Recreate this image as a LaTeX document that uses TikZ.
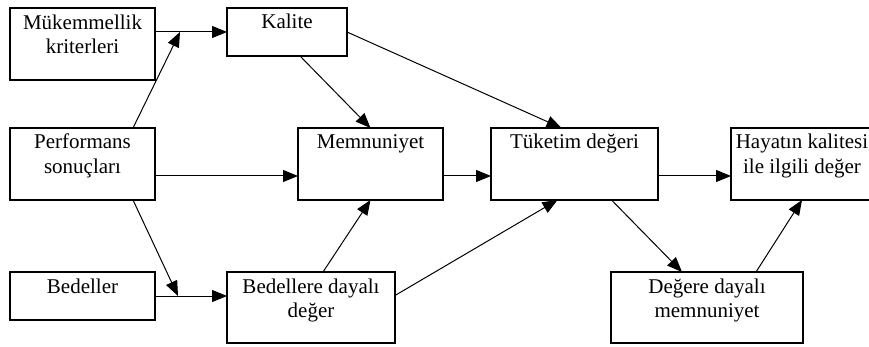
\documentclass[tikz,border=0pt]{standalone}
\usepackage{fontspec}
\setmainfont{Liberation Serif}
\usetikzlibrary{arrows.meta,calc}
\begin{document}
\begin{tikzpicture}[x=1pt,y=-1pt,
  box/.style={draw,line width=1.1pt,rectangle,inner sep=0pt,outer sep=0pt},
  lbl/.style={anchor=base,align=center,inner sep=0pt,font=\fontsize{21}{24.5}\selectfont},
  arr/.style={line width=1pt,-{Triangle[length=15pt,width=12pt]}}]
\useasboundingbox (0,0) rectangle (869,347);
\clip (0,0) rectangle (869,347);
% boxes
\node[box,minimum width=145pt,minimum height=72pt] (muk) at (82.5,44) {};
\node[box,minimum width=120pt,minimum height=48pt] (kal) at (287,32) {};
\node[box,minimum width=145pt,minimum height=72pt] (perf) at (82.5,164) {};
\node[box,minimum width=145pt,minimum height=48pt] (bed) at (82.5,296) {};
\node[box,minimum width=168pt,minimum height=71pt] (bdd) at (311,307.5) {};
\node[box,minimum width=145pt,minimum height=72pt] (mem) at (370.5,164) {};
\node[box,minimum width=167pt,minimum height=72pt] (tuk) at (574.5,164) {};
\node[box,minimum width=142pt,minimum height=72pt] (hay) at (802,164) {};
\node[box,minimum width=192pt,minimum height=71pt] (deg) at (707,307.5) {};
% labels (base = baseline of last line)
\node[lbl] (tmuk) at (82.5,54) {Mükemmellik\\kriterleri};
\node[lbl] (tkal) at (287,29) {Kalite};
\node[lbl] (tperf) at (82.5,173.5) {Performans\\sonuçları};
\node[lbl] (tbed) at (82.5,293) {Bedeller};
\node[lbl] (tbdd) at (311,317.5) {Bedellere dayalı\\değer};
\node[lbl] (tmem) at (370.5,149) {Memnuniyet};
\node[lbl] (ttuk) at (574.5,149) {Tüketim değeri};
\node[lbl] (thay) at (802,173.5) {Hayatın kalitesi\\ile ilgili değer};
\node[lbl] (tdeg) at (707,317.5) {Değere dayalı\\memnuniyet};
% junctions
\coordinate (j1) at (180,32);
\coordinate (j2) at (178,296);
% connectors
\draw[arr] ([yshift=12pt]muk.east) -- (kal.west);
\draw[arr] ([xshift=-22pt]perf.north east) -- (j1);
\draw[arr] ([xshift=-22pt]perf.south east) -- (j2);
\draw[arr] (bed.east) -- (bed.east -| bdd.west);
\draw[arr] ([yshift=-12pt]perf.east) -- ([yshift=-12pt]mem.west);
\draw[arr] ([yshift=-12pt]mem.east) -- ([yshift=-12pt]tuk.west);
\draw[arr] ([yshift=-12pt]tuk.east) -- ([yshift=-12pt]hay.west);
\draw[arr] ([xshift=13pt]kal.south) -- (mem.north);
\draw[arr] (kal.east) -- ([xshift=-13pt]tuk.north);
\draw[arr] ([xshift=12pt]bdd.north) -- (mem.south);
\draw[arr] ([yshift=12pt]bdd.east) -- ([xshift=-17pt]tuk.south);
\draw[arr] ([xshift=37pt]tuk.south) -- ([xshift=-25pt]deg.north);
\draw[arr] ([xshift=49pt]deg.north) -- (hay.south);
\end{tikzpicture}
\end{document}
